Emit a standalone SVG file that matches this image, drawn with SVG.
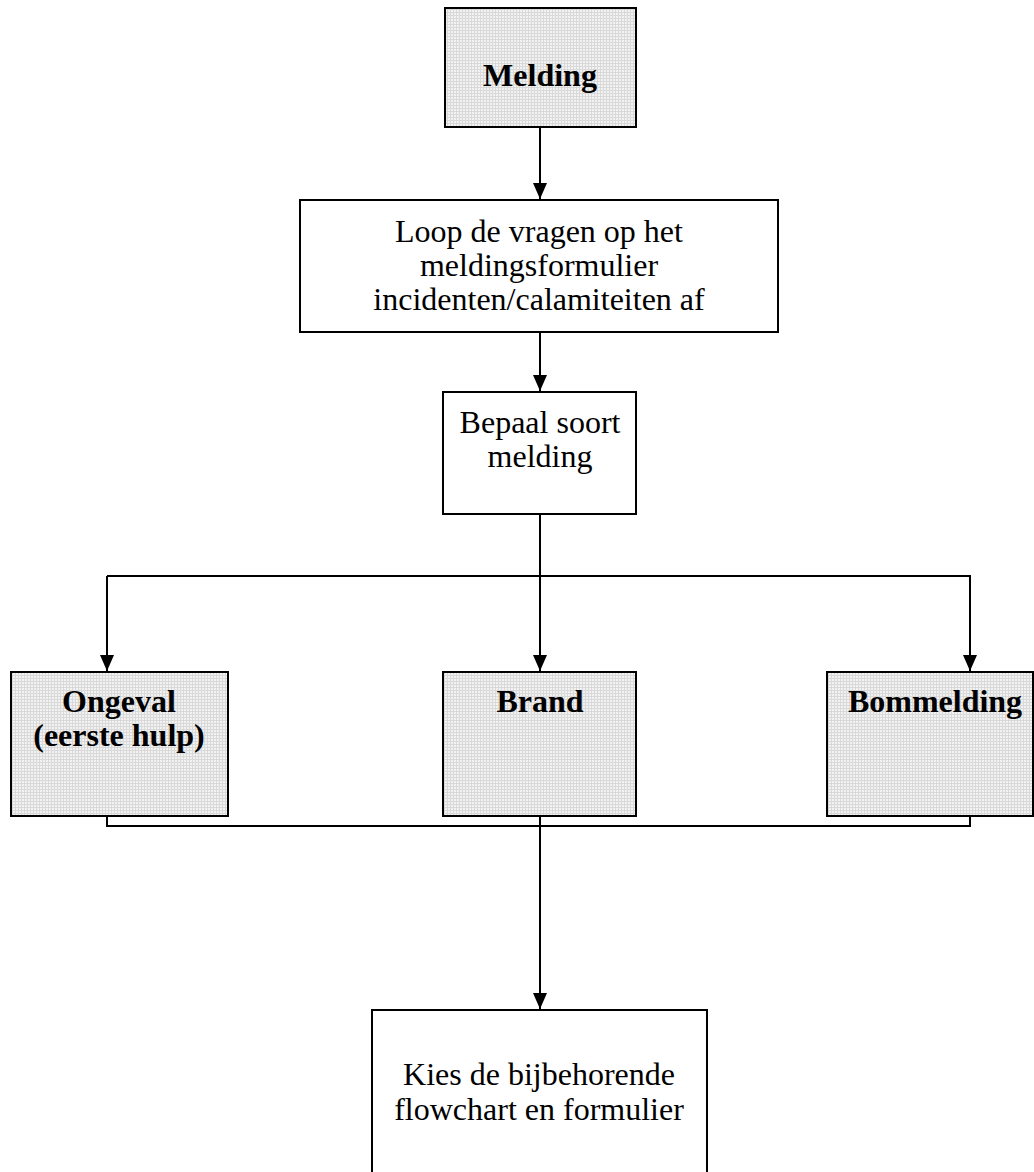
<svg xmlns="http://www.w3.org/2000/svg" width="1034" height="1172" viewBox="0 0 1034 1172">
<style>
.box{stroke:#000;stroke-width:2}
.plain{fill:#fff}
.shade{fill:url(#grid)}
.t{font-family:"Liberation Serif","Times New Roman",serif;font-size:32px;fill:#000;text-anchor:middle}
.b{font-weight:bold}
.ln{fill:none;stroke:#000;stroke-width:2}
</style>
<defs>
<pattern id="grid" width="3" height="3" patternUnits="userSpaceOnUse">
<rect width="3" height="3" fill="#f2f2f2"/>
<rect width="3" height="1" fill="#d9d9d9"/>
<rect width="1" height="3" fill="#d9d9d9"/>
</pattern>
<marker id="a" markerWidth="16" markerHeight="18" viewBox="0 0 16 18" refX="16" refY="8" orient="auto" markerUnits="userSpaceOnUse">
<path d="M0,1 L16,8 L0,15 Z" fill="#000"/>
</marker>
</defs>
<g id="connectors">
<path class="ln" d="M540,127 V199" marker-end="url(#a)"/>
<path class="ln" d="M540,332 V391" marker-end="url(#a)"/>
<path class="ln" d="M540,514 V671" marker-end="url(#a)"/>
<path class="ln" d="M107,576 H970 V671" marker-end="url(#a)"/>
<path class="ln" d="M107,576 V671" marker-end="url(#a)"/>
<path class="ln" d="M107,816 V826 H970 V816"/>
<path class="ln" d="M540,816 V1009" marker-end="url(#a)"/>
</g>
<g id="melding">
<rect class="box shade" x="445" y="8" width="191" height="119"/>
<text class="t b" x="540" y="86">Melding</text>
</g>
<g id="loop">
<rect class="box plain" x="300" y="200" width="478" height="132"/>
<text class="t" x="539" y="242">Loop de vragen op het</text>
<text class="t" x="539" y="276">meldingsformulier</text>
<text class="t" x="539" y="310">incidenten/calamiteiten af</text>
</g>
<g id="bepaal">
<rect class="box plain" x="443" y="392" width="193" height="122"/>
<text class="t" x="540" y="433">Bepaal soort</text>
<text class="t" x="540" y="467">melding</text>
</g>
<g id="ongeval">
<rect class="box shade" x="11" y="672" width="217" height="144"/>
<text class="t b" x="119" y="712">Ongeval</text>
<text class="t b" x="119" y="746">(eerste hulp)</text>
</g>
<g id="brand">
<rect class="box shade" x="443" y="672" width="193" height="144"/>
<text class="t b" x="540" y="712">Brand</text>
</g>
<g id="bommelding">
<rect class="box shade" x="827" y="672" width="206" height="144"/>
<text class="t b" x="935" y="712">Bommelding</text>
</g>
<g id="kies">
<rect class="box plain" x="372" y="1010" width="335" height="180"/>
<text class="t" x="539" y="1085">Kies de bijbehorende</text>
<text class="t" x="539" y="1120">flowchart en formulier</text>
</g>
</svg>
